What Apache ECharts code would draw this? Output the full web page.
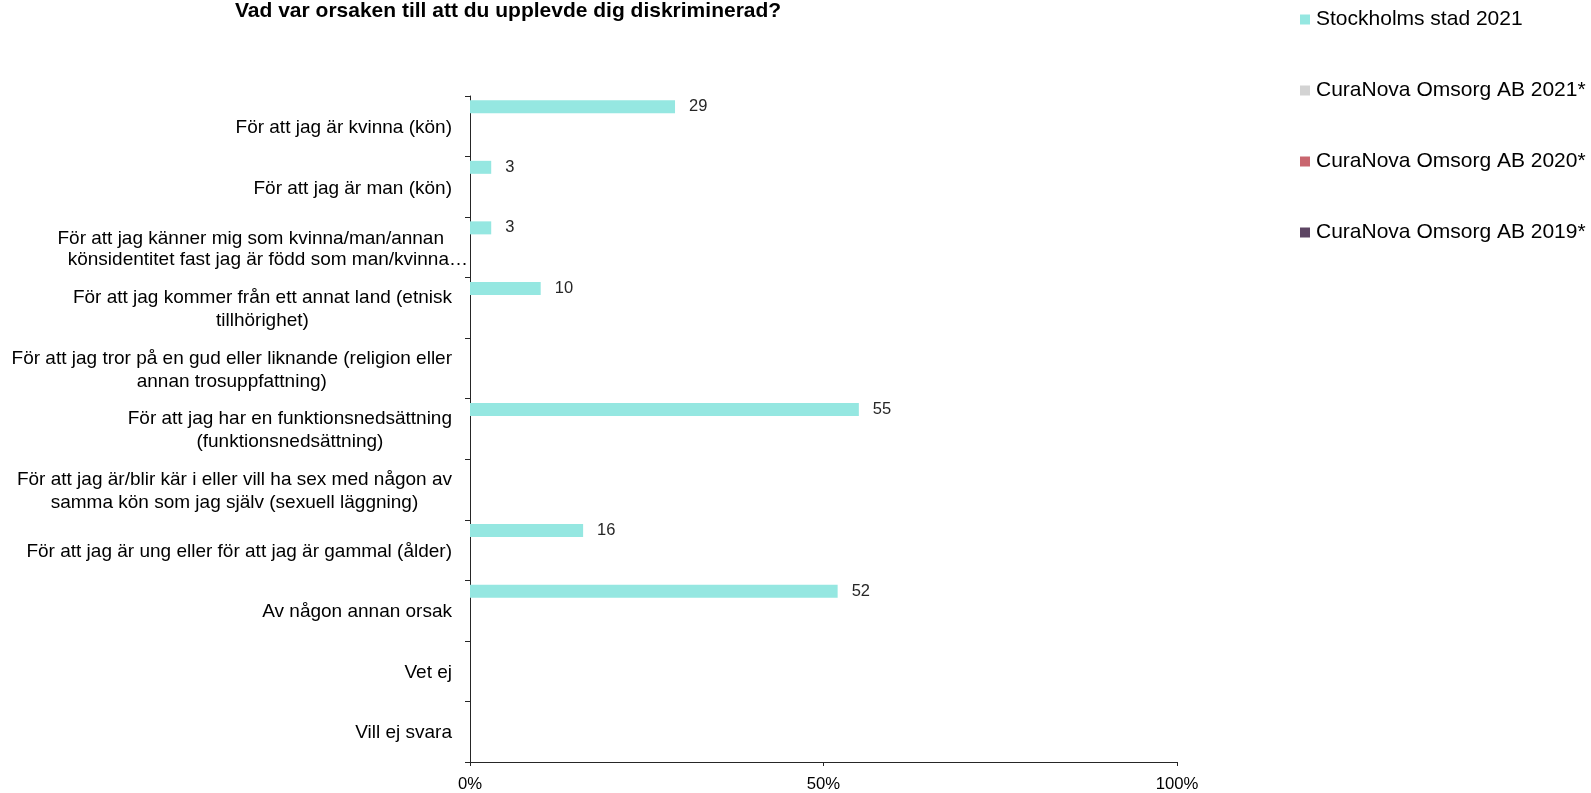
<!DOCTYPE html>
<html>
<head>
<meta charset="utf-8">
<script src="https://cdn.jsdelivr.net/npm/echarts@6/dist/echarts.min.js"></script>
<style>
html,body{margin:0;padding:0;background:#fff;}
#chart{width:1591px;height:793px;}
</style>
</head>
<body>
<div id="chart"></div>
<script>
const title = 'Vad var orsaken till att du upplevde dig diskriminerad?';
const categories = [
  'För att jag är kvinna (kön)',
  'För att jag är man (kön)',
  'För att jag känner mig som kvinna/man/annan\nkönsidentitet fast jag är född som man/kvinna…',
  'För att jag kommer från ett annat land (etnisk\ntillhörighet)',
  'För att jag tror på en gud eller liknande (religion eller\nannan trosuppfattning)',
  'För att jag har en funktionsnedsättning\n(funktionsnedsättning)',
  'För att jag är/blir kär i eller vill ha sex med någon av\nsamma kön som jag själv (sexuell läggning)',
  'För att jag är ung eller för att jag är gammal (ålder)',
  'Av någon annan orsak',
  'Vet ej',
  'Vill ej svara'
];
const seriesNames = ['Stockholms stad 2021', 'CuraNova Omsorg AB 2021*', 'CuraNova Omsorg AB 2020*', 'CuraNova Omsorg AB 2019*'];
const stockholm2021 = [29, 3, 3, 10, null, 55, null, 16, 52, null, null];
const curanova2021 = [null, null, null, null, null, null, null, null, null, null, null];
const curanova2020 = [null, null, null, null, null, null, null, null, null, null, null];
const curanova2019 = [null, null, null, null, null, null, null, null, null, null, null];
const xTicks = [0, 50, 100];

const colors = ['#95E7E1', '#D3D3D3', '#C9666F', '#5D4563'];
const seriesData = [stockholm2021, curanova2021, curanova2020, curanova2019];

const chart = echarts.init(document.getElementById('chart'));
const FONT = 'Arial, "Liberation Sans", sans-serif';

chart.setOption({
  animation: false,
  color: colors,
  textStyle: { fontFamily: FONT },
  title: {
    text: title,
    left: 235,
    top: 1,
    padding: 0,
    textStyle: { fontSize: 21, fontWeight: 'bold', color: '#000', fontFamily: FONT }
  },
  legend: {
    orient: 'vertical',
    left: 1300,
    top: 9,
    padding: 0,
    itemWidth: 10,
    itemHeight: 10,
    itemGap: 50,
    icon: 'rect',
    textStyle: { fontSize: 21, color: '#000', fontFamily: FONT, padding: [0, 0, 0, 1] },
    data: seriesNames
  },
  grid: { left: 470, right: 414, top: 96, bottom: 30, containLabel: false },
  xAxis: {
    type: 'value',
    min: xTicks[0],
    max: xTicks[xTicks.length - 1],
    interval: 50,
    axisLine: { show: true, lineStyle: { color: '#262626', width: 1 } },
    axisTick: { show: true, length: 4, lineStyle: { color: '#262626' } },
    splitLine: { show: false },
    axisLabel: { formatter: '{value}%', fontSize: 16.7, color: '#000', margin: 14, fontFamily: FONT }
  },
  yAxis: {
    type: 'category',
    inverse: true,
    data: categories,
    axisLine: { show: true, lineStyle: { color: '#262626', width: 1 } },
    axisTick: { show: true, length: 5, lineStyle: { color: '#262626' } },
    axisLabel: {
      fontSize: 19,
      color: '#000',
      margin: 2,
      lineHeight: 23,
      padding: [3, 0, 0, 0],
      fontFamily: FONT,
      formatter: function (v) {
        const lines = v.split('\n');
        if (v.indexOf('…') >= 0) {
          return '{d1|' + lines[0] + '}\n{d2|' + lines[1] + '}';
        }
        return lines.map(l => '{c|' + l + '}').join('\n');
      },
      rich: {
        c: { fontSize: 19, lineHeight: 23, align: 'center', padding: [0, 16, 0, 0], color: '#000', fontFamily: FONT },
        d1: { fontSize: 19, lineHeight: 21, align: 'right', padding: [0, 24, 0, 0], color: '#000', fontFamily: FONT },
        d2: { fontSize: 19, lineHeight: 21, align: 'right', color: '#000', fontFamily: FONT }
      }
    }
  },
  series: seriesNames.map((n, i) => ({
    name: n,
    type: 'bar',
    data: seriesData[i],
    barWidth: 13,
    barGap: '0%',
    label: {
      show: true,
      position: 'right',
      distance: 14,
      fontSize: 16.5,
      color: '#262626',
      fontFamily: FONT
    }
  }))
});
</script>
</body>
</html>
